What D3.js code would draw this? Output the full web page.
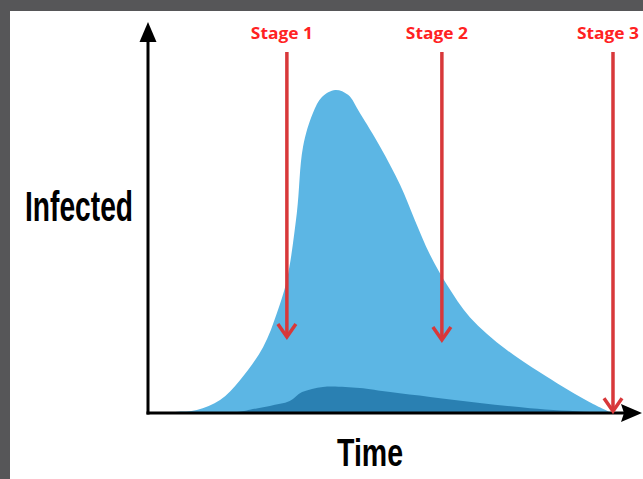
<!DOCTYPE html>
<html>
<head>
<meta charset="utf-8">
<script src="https://cdn.jsdelivr.net/npm/d3@7"></script>
<style>
  body { margin: 0; background: #565658; }
  svg { display: block; }
</style>
</head>
<body>
<div id="chart"></div>
<script>
// total infected curve (time in arbitrary units, infected in %)
const totalTime = [0, 5.7, 10.3, 15.2, 19.4, 24.3, 27.2, 29.3, 31.4, 32.7, 34.8, 36.7, 39.5, 42.2, 44.7, 49, 53.2, 56.3, 59.5, 63.1, 67.9, 75.7, 86.3, 93.2, 97.9];
const totalInfected = [0, 0.3, 0.8, 3.5, 8.8, 17.7, 26.8, 35.7, 53.6, 71.3, 80.4, 84.7, 86.6, 85.3, 80.4, 71.3, 61.1, 51.7, 42.4, 34.3, 25.7, 16.9, 8, 2.9, 0];

// severe cases, the darker band
const severeTime = [0, 18.8, 21.5, 25.7, 29.9, 32.5, 36.9, 41.6, 44.7, 51.1, 59.5, 70, 80.6, 93.2, 97.9];
const severeInfected = [0, 0.3, 0.9, 1.9, 3.2, 5.6, 7, 7, 6.7, 5.6, 4.3, 2.7, 1.3, 0.3, 0];

const stageNames = ['Stage 1', 'Stage 2', 'Stage 3'];
const stageTimes = [29.3, 62.0, 98.1];
const stageTips = [20.4, 19.6, 0.5];

const width = 643;
const height = 479;

const x = d3.scaleLinear().domain([0, 100]).range([148, 622]);
const y = d3.scaleLinear().domain([0, 100]).range([413, 40]);

const svg = d3.select('#chart').append('svg')
    .attr('width', width)
    .attr('height', height);

svg.append('rect')
    .attr('x', 10).attr('y', 11)
    .attr('width', width - 10).attr('height', height - 11)
    .attr('fill', '#ffffff');

const area = d3.area()
    .x(d => x(d[0]))
    .y0(y(0))
    .y1(d => Math.min(y(0), y(d[1])))
    .curve(d3.curveCatmullRom.alpha(0.5));

svg.append('path')
    .datum(d3.zip(totalTime, totalInfected))
    .attr('d', area)
    .attr('fill', '#5cb6e4');

svg.append('path')
    .datum(d3.zip(severeTime, severeInfected))
    .attr('d', area)
    .attr('fill', '#2a80b2');

// axes with arrow heads
const axisColour = '#000000';
svg.append('line')
    .attr('x1', x(0)).attr('x2', x(0))
    .attr('y1', y(0) + 1.5).attr('y2', 38)
    .attr('stroke', axisColour).attr('stroke-width', 3);
svg.append('path')
    .attr('d', `M${x(0)},22 L${x(0) + 8.5},42 L${x(0) - 8.5},42 Z`)
    .attr('fill', axisColour);

svg.append('line')
    .attr('x1', x(0) - 1.5).attr('x2', 626)
    .attr('y1', y(0)).attr('y2', y(0))
    .attr('stroke', axisColour).attr('stroke-width', 3);
svg.append('path')
    .attr('d', `M642,${y(0)} L621,${y(0) - 9} L624,${y(0)} L621,${y(0) + 9} Z`)
    .attr('fill', axisColour);

svg.append('text')
    .attr('x', 25).attr('y', 221)
    .attr('textLength', 108).attr('lengthAdjust', 'spacingAndGlyphs')
    .style('font-family', 'Liberation Sans, Arial, sans-serif')
    .style('font-weight', 'bold')
    .style('font-size', '42px')
    .text('Infected');

svg.append('text')
    .attr('x', 337).attr('y', 466)
    .attr('textLength', 66).attr('lengthAdjust', 'spacingAndGlyphs')
    .style('font-family', 'Liberation Sans, Arial, sans-serif')
    .style('font-weight', 'bold')
    .style('font-size', '38px')
    .text('Time');

// stage arrows
const red = '#d8383a';
const stages = svg.selectAll('g.stage')
    .data(stageNames.map((name, i) => ({ name, t: stageTimes[i], tip: stageTips[i] })))
  .enter().append('g')
    .attr('class', 'stage');

stages.append('line')
    .attr('x1', d => x(d.t)).attr('x2', d => x(d.t))
    .attr('y1', 52).attr('y2', d => y(d.tip) - 2)
    .attr('stroke', red).attr('stroke-width', 3.5);

stages.append('path')
    .attr('d', d => `M${x(d.t) - 9},${y(d.tip) - 13} L${x(d.t)},${y(d.tip)} L${x(d.t) + 9},${y(d.tip) - 13}`)
    .attr('fill', 'none')
    .attr('stroke', red).attr('stroke-width', 3.5);

stages.append('text')
    .attr('x', d => x(d.t) - 5)
    .attr('y', 39)
    .attr('text-anchor', 'middle')
    .attr('textLength', 62).attr('lengthAdjust', 'spacingAndGlyphs')
    .style('font-family', 'Open Sans, sans-serif')
    .style('font-weight', 'bold')
    .style('font-size', '16px')
    .style('fill', '#ff2222')
    .text(d => d.name);
</script>
</body>
</html>
